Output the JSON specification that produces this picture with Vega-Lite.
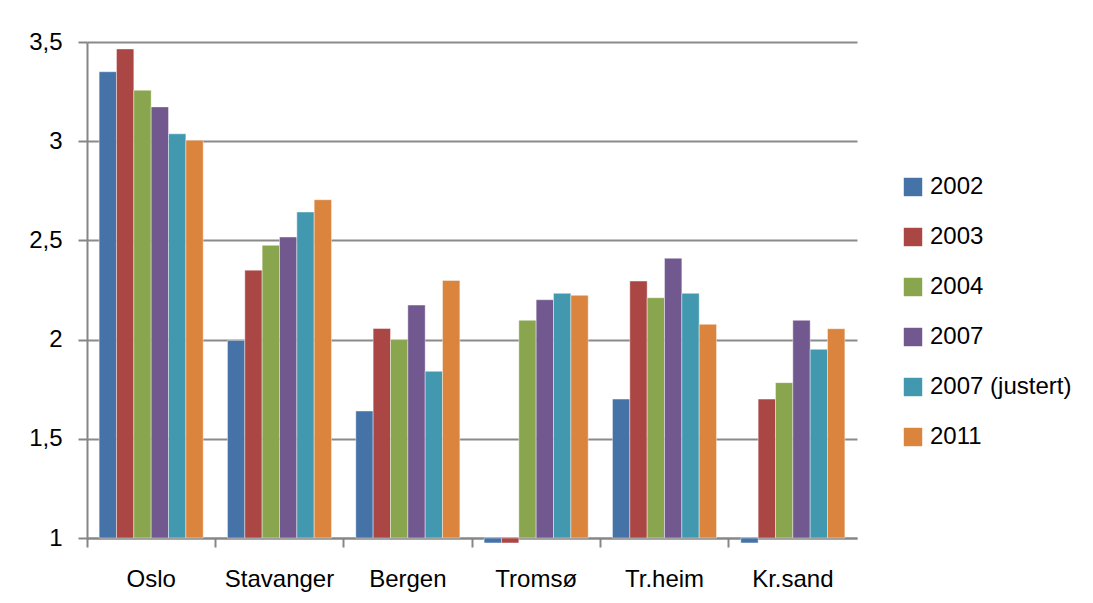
{
  "$schema": "https://vega.github.io/schema/vega-lite/v6.json",
  "width": 770,
  "height": 496,
  "autosize": {"type": "none"},
  "padding": {"left": 87, "top": 42, "right": 236, "bottom": 65},
  "background": "white",
  "data": {
    "values": [
      {"city": "Oslo", "series": "2002", "value": 3.35},
      {"city": "Oslo", "series": "2003", "value": 3.465},
      {"city": "Oslo", "series": "2004", "value": 3.257},
      {"city": "Oslo", "series": "2007", "value": 3.173},
      {"city": "Oslo", "series": "2007 (justert)", "value": 3.037},
      {"city": "Oslo", "series": "2011", "value": 3.005},
      {"city": "Stavanger", "series": "2002", "value": 1.996},
      {"city": "Stavanger", "series": "2003", "value": 2.35},
      {"city": "Stavanger", "series": "2004", "value": 2.475},
      {"city": "Stavanger", "series": "2007", "value": 2.517},
      {"city": "Stavanger", "series": "2007 (justert)", "value": 2.643},
      {"city": "Stavanger", "series": "2011", "value": 2.705},
      {"city": "Bergen", "series": "2002", "value": 1.64},
      {"city": "Bergen", "series": "2003", "value": 2.056},
      {"city": "Bergen", "series": "2004", "value": 2.0},
      {"city": "Bergen", "series": "2007", "value": 2.174},
      {"city": "Bergen", "series": "2007 (justert)", "value": 1.84},
      {"city": "Bergen", "series": "2011", "value": 2.298},
      {"city": "Tromsø", "series": "2002", "value": 0.975},
      {"city": "Tromsø", "series": "2003", "value": 0.975},
      {"city": "Tromsø", "series": "2004", "value": 2.097},
      {"city": "Tromsø", "series": "2007", "value": 2.201},
      {"city": "Tromsø", "series": "2007 (justert)", "value": 2.233},
      {"city": "Tromsø", "series": "2011", "value": 2.223},
      {"city": "Tr.heim", "series": "2002", "value": 1.70},
      {"city": "Tr.heim", "series": "2003", "value": 2.295},
      {"city": "Tr.heim", "series": "2004", "value": 2.211},
      {"city": "Tr.heim", "series": "2007", "value": 2.41},
      {"city": "Tr.heim", "series": "2007 (justert)", "value": 2.233},
      {"city": "Tr.heim", "series": "2011", "value": 2.077},
      {"city": "Kr.sand", "series": "2002", "value": 0.975},
      {"city": "Kr.sand", "series": "2003", "value": 1.70},
      {"city": "Kr.sand", "series": "2004", "value": 1.783},
      {"city": "Kr.sand", "series": "2007", "value": 2.097},
      {"city": "Kr.sand", "series": "2007 (justert)", "value": 1.951},
      {"city": "Kr.sand", "series": "2011", "value": 2.055}
    ]
  },
  "mark": {"type": "bar", "stroke": "white", "strokeWidth": 0.6, "strokeOpacity": 0.7},
  "encoding": {
    "x": {
      "field": "city",
      "type": "nominal",
      "sort": ["Oslo", "Stavanger", "Bergen", "Tromsø", "Tr.heim", "Kr.sand"],
      "scale": {"paddingInner": 0, "paddingOuter": 0},
      "axis": {
        "title": null,
        "labelAngle": 0,
        "bandPosition": 0,
        "tickSize": 9,
        "labelPadding": 20,
        "labelFontSize": 24,
        "labelColor": "black",
        "labelFont": "Liberation Sans"
      }
    },
    "xOffset": {
      "field": "series",
      "type": "nominal",
      "sort": ["2002", "2003", "2004", "2007", "2007 (justert)", "2011"],
      "scale": {"paddingInner": 0, "paddingOuter": 0.7}
    },
    "y": {
      "field": "value",
      "type": "quantitative",
      "scale": {"domain": [1, 3.5], "zero": false, "nice": false},
      "axis": {
        "title": null,
        "values": [1, 1.5, 2, 2.5, 3, 3.5],
        "labelExpr": "replace(format(datum.value, '~g'), '.', ',')",
        "tickSize": 9,
        "labelPadding": 16,
        "labelFontSize": 24,
        "labelColor": "black",
        "labelFont": "Liberation Sans",
        "grid": true,
        "gridColor": "#8a8a8a",
        "gridWidth": 2
      }
    },
    "y2": {"datum": 1},
    "color": {
      "field": "series",
      "type": "nominal",
      "scale": {
        "domain": ["2002", "2003", "2004", "2007", "2007 (justert)", "2011"],
        "range": ["#4572A7", "#AA4643", "#89A54E", "#71588F", "#4198AF", "#DB843D"]
      },
      "legend": {
        "title": null,
        "orient": "none",
        "legendX": 814,
        "legendY": 133,
        "symbolType": "square",
        "symbolSize": 340,
        "symbolStrokeWidth": 0,
        "labelFontSize": 24,
        "labelFont": "Liberation Sans",
        "labelColor": "black",
        "labelOffset": 5,
        "rowPadding": 26
      }
    }
  },
  "config": {
    "view": {"stroke": null},
    "axis": {
      "domainColor": "#868686",
      "domainWidth": 2,
      "tickColor": "#868686",
      "tickWidth": 2
    }
  }
}
